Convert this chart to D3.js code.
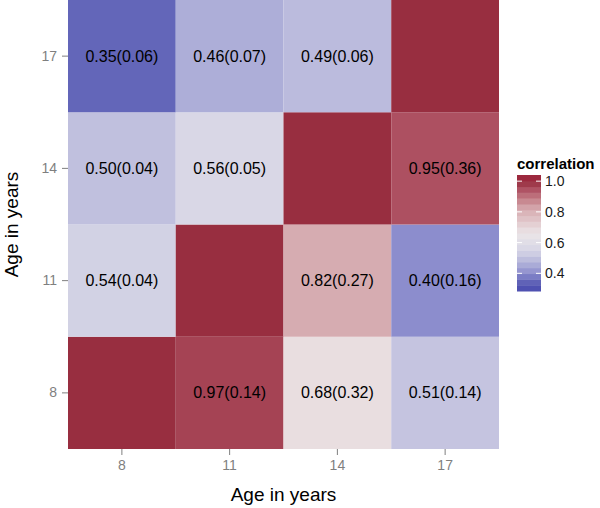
<!DOCTYPE html>
<html>
<head>
<meta charset="utf-8">
<script src="https://cdn.jsdelivr.net/npm/d3@7"></script>
<style>
  body { margin: 0; background: #fff; }
  svg { display: block; font-family: "Liberation Sans", Arial, sans-serif; }
</style>
</head>
<body>
<div id="canvas"></div>
<script>
'use strict';

// Ages on both axes (bottom-to-top for y).
const xAges = ['8', '11', '14', '17'];
const yAges = ['8', '11', '14', '17'];

// Correlations, one row per y age (8, 11, 14, 17), columns are x ages.
const correlations = [
  [1.00, 0.97, 0.68, 0.51],
  [0.54, 1.00, 0.82, 0.40],
  [0.50, 0.56, 1.00, 0.95],
  [0.35, 0.46, 0.49, 1.00],
];
// Standard errors shown in brackets; null on the diagonal (no label).
const stdErrors = [
  [null, 0.14, 0.32, 0.14],
  [0.04, null, 0.27, 0.16],
  [0.04, 0.05, null, 0.36],
  [0.06, 0.07, 0.06, null],
];

// Colour scale stops.
const colorDomain = [0.285, 0.35, 0.40, 0.46, 0.50, 0.55, 0.66, 0.82, 0.95, 1.0, 1.04];
const colorRange = ['#4649ad', '#6366b9', '#8c8dcd', '#adaed8', '#c0c0de',
  '#d7d6e6', '#ebe5e7', '#d6acb1', '#ad5061', '#982e40', '#a0243d'];
const legendTicks = [0.4, 0.6, 0.8, 1.0];

const width = 600;
const height = 508;
const margins = {top: 0, left: 68, right: 101, bottom: 59};
const plotWidth = width - margins.left - margins.right;
const plotHeight = height - margins.top - margins.bottom;

const svg = d3.select('#canvas').append('svg')
    .attr('width', width)
    .attr('height', height);

const chart = svg.append('g')
    .attr('transform', `translate(${margins.left},${margins.top})`);

const xScale = d3.scaleBand().domain(xAges).range([0, plotWidth]);
const yScale = d3.scaleBand().domain(yAges).range([plotHeight, 0]);
const color = d3.scaleLinear().domain(colorDomain).range(colorRange)
    .interpolate(d3.interpolateLab);

// Flatten the matrix into cells.
const cells = [];
yAges.forEach((ya, i) => {
  xAges.forEach((xa, j) => {
    cells.push({x: xa, y: ya, r: correlations[i][j], se: stdErrors[i][j]});
  });
});

chart.selectAll('.cell')
    .data(cells)
    .enter()
    .append('rect')
    .attr('class', 'cell')
    .attr('x', d => xScale(d.x))
    .attr('y', d => yScale(d.y))
    .attr('width', xScale.bandwidth())
    .attr('height', yScale.bandwidth())
    .attr('fill', d => color(d.r));

chart.selectAll('.cell-label')
    .data(cells.filter(d => d.se !== null))
    .enter()
    .append('text')
    .attr('class', 'cell-label')
    .attr('x', d => xScale(d.x) + xScale.bandwidth() / 2)
    .attr('y', d => yScale(d.y) + yScale.bandwidth() / 2)
    .attr('text-anchor', 'middle')
    .attr('dominant-baseline', 'central')
    .attr('font-size', 16)
    .attr('fill', '#000')
    .text(d => `${d.r.toFixed(2)}(${d.se.toFixed(2)})`);

// Axes, ggplot style: short grey ticks, grey labels, no domain line.
const xAxis = chart.append('g')
    .attr('transform', `translate(0,${plotHeight})`)
    .call(d3.axisBottom(xScale).tickSize(6).tickPadding(5));
const yAxis = chart.append('g')
    .call(d3.axisLeft(yScale).tickSize(6).tickPadding(5));
[xAxis, yAxis].forEach(axis => {
  axis.attr('font-size', 14)
      .attr('font-family', '"Liberation Sans", Arial, sans-serif');
  axis.select('.domain').remove();
  axis.selectAll('line').attr('stroke', '#7f7f7f');
  axis.selectAll('text')
      .attr('fill', '#7f7f7f')
      .style('font-size', '14px');
});

// Axis titles.
svg.append('text')
    .attr('x', margins.left + plotWidth / 2)
    .attr('y', 501)
    .attr('text-anchor', 'middle')
    .attr('font-size', 19)
    .text('Age in years');
svg.append('text')
    .attr('transform', `translate(18,${margins.top + plotHeight / 2}) rotate(-90)`)
    .attr('text-anchor', 'middle')
    .attr('font-size', 19)
    .text('Age in years');

// Legend colour bar.
const legendX = 517;
const legendTop = 175;
const legendBottom = 291;
const barWidth = 24;
const legendScale = d3.scaleLinear()
    .domain([colorDomain[0], colorDomain[colorDomain.length - 1]])
    .range([legendBottom, legendTop]);
const legend = svg.append('g').attr('class', 'legend');

legend.append('text')
    .attr('x', legendX)
    .attr('y', 169)
    .attr('font-size', 15)
    .attr('font-weight', 'bold')
    .text('correlation');

const nBins = 20;
const binValues = d3.range(nBins).map(i =>
  legendScale.domain()[0] +
  (i + 0.5) * (legendScale.domain()[1] - legendScale.domain()[0]) / nBins);
const binHeight = (legendBottom - legendTop) / nBins;
legend.selectAll('.bin')
    .data(binValues)
    .enter()
    .append('rect')
    .attr('class', 'bin')
    .attr('x', legendX)
    .attr('y', d => legendScale(d) - binHeight / 2)
    .attr('width', barWidth)
    .attr('height', binHeight + 0.5)
    .attr('fill', d => color(d));

// White tick marks on the bar edges at the labelled values.
legendTicks.forEach(t => {
  [legendX, legendX + barWidth - 5].forEach(x0 => {
    legend.append('line')
        .attr('x1', x0).attr('x2', x0 + 5)
        .attr('y1', legendScale(t)).attr('y2', legendScale(t))
        .attr('stroke', '#fff')
        .attr('stroke-width', 1);
  });
});

legend.selectAll('.legend-label')
    .data(legendTicks)
    .enter()
    .append('text')
    .attr('class', 'legend-label')
    .attr('x', legendX + barWidth + 4)
    .attr('y', d => legendScale(d))
    .attr('dominant-baseline', 'central')
    .attr('font-size', 14)
    .attr('fill', '#1a1a1a')
    .text(d => d.toFixed(1));
</script>
</body>
</html>
